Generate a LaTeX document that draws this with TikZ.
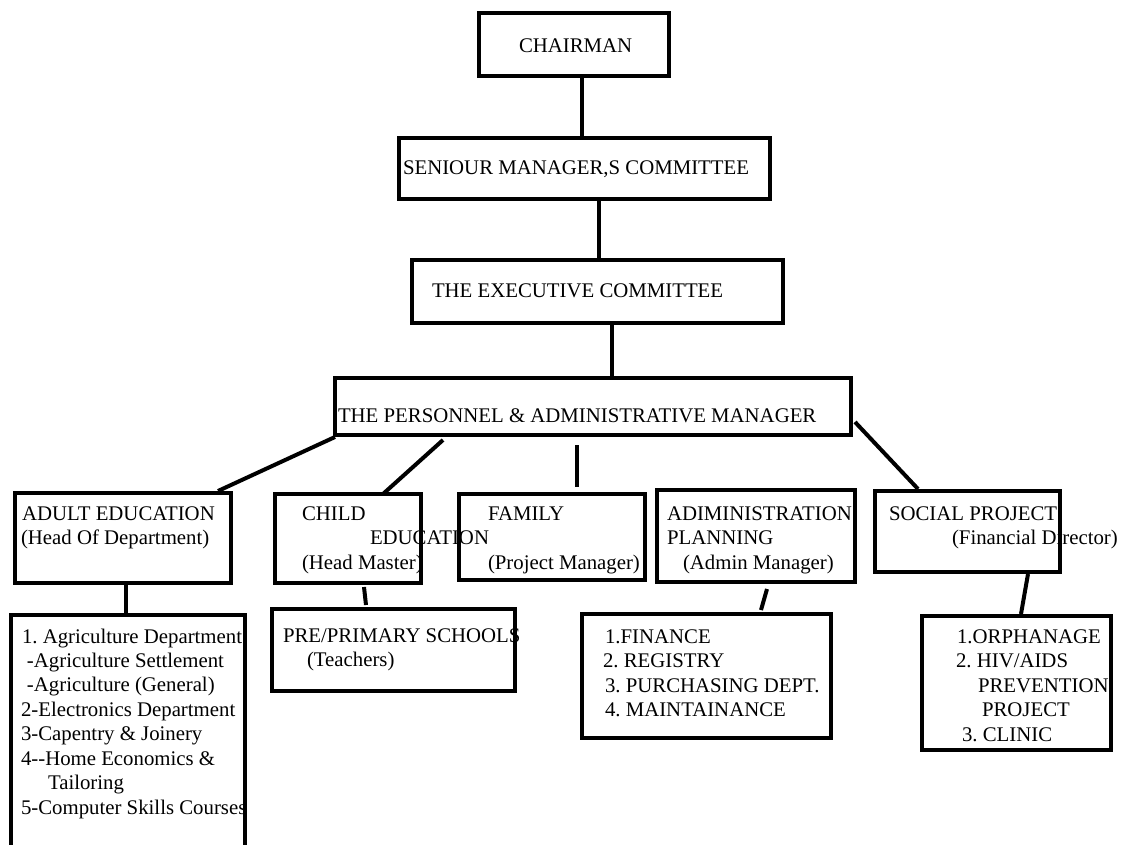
\documentclass[tikz,border=0pt]{standalone}
\usepackage{fontspec}
\setmainfont{Liberation Serif}
\usetikzlibrary{calc}
\begin{document}
\frenchspacing
\begin{tikzpicture}[x=1pt,y=-1pt,
  box/.style={draw, line width=4pt, inner sep=0pt, outer sep=0pt},
  txt/.style={anchor=base west, inner sep=0pt, outer sep=0pt, font=\fontsize{20.8}{24.45}\selectfont},
  link/.style={line width=4pt, line cap=butt}]
\clip (0,0) rectangle (1122,845);
\fill[white] (0,0) rectangle (1122,845);

% ---------- texts ----------
\node[txt] (tchair) at (519,52.5) {CHAIRMAN};
\node[txt] (tsen) at (403,175) {SENIOUR MANAGER,S COMMITTEE};
\node[txt] (texe) at (432,298) {THE EXECUTIVE COMMITTEE};
\node[txt] (tpm) at (338,422) {THE PERSONNEL \& ADMINISTRATIVE MANAGER};

\node[txt] (tad1) at (22,520) {ADULT EDUCATION};
\node[txt] (tad2) at (21,544.5) {(Head Of Department)};

\node[txt] (tch1) at (302,520) {CHILD};
\node[txt] (tch2) at (370,544.5) {EDUCATION};
\node[txt] (tch3) at (302,569) {(Head Master)};

\node[txt] (tfa1) at (488,520) {FAMILY};
\node[txt] (tfa2) at (488,569) {(Project Manager)};

\node[txt] (tam1) at (667,520) {ADIMINISTRATION};
\node[txt] (tam2) at (667,544.5) {PLANNING};
\node[txt] (tam3) at (683,569) {(Admin Manager)};

\node[txt] (tso1) at (889,520) {SOCIAL PROJECT};
\node[txt] (tso2) at (952,544.5) {(Financial Director)};

\foreach \xx/\tt [count=\i] in {
  22/{1. Agriculture Department.},
  27/{-Agriculture Settlement},
  27/{-Agriculture (General)},
  21/{2-Electronics Department},
  21/{3-Capentry \& Joinery},
  21/{4-\kern0pt-Home Economics \&},
  48/{Tailoring},
  21/{5-Computer Skills Courses}}
  \node[txt] (tal\i) at (\xx,{643+24.45*(\i-1)}) {\tt};

\node[txt] (tpr1) at (283,642) {PRE/PRIMARY SCHOOLS};
\node[txt] (tpr2) at (307,666.5) {(Teachers)};

\node[txt] (tml1) at (605,643) {1.FINANCE};
\node[txt] (tml2) at (603,667.5) {2. REGISTRY};
\node[txt] (tml3) at (605,692) {3. PURCHASING DEPT.};
\node[txt] (tml4) at (605,716.5) {4. MAINTAINANCE};

\node[txt] (tsl1) at (957,643) {1.ORPHANAGE};
\node[txt] (tsl2) at (956,667.5) {2. HIV/AIDS};
\node[txt] (tsl3) at (978,692) {PREVENTION};
\node[txt] (tsl4) at (982,716.5) {PROJECT};
\node[txt] (tsl5) at (962,741) {3. CLINIC};

% ---------- boxes ----------
\node[box, minimum width=190pt, minimum height=63pt] (chair) at (574,44.5) {};
\node[box, minimum width=371pt, minimum height=61pt] (senior) at (584.5,168.5) {};
\node[box, minimum width=371pt, minimum height=63pt] (exec) at (597.5,291.5) {};
\node[box, minimum width=516pt, minimum height=57pt] (pm) at (593,406.5) {};
\node[box, minimum width=216pt, minimum height=90pt] (adult) at (123,538) {};
\node[box, minimum width=146pt, minimum height=89pt] (child) at (348,538.5) {};
\node[box, minimum width=186pt, minimum height=86pt] (family) at (552,537) {};
\node[box, minimum width=198pt, minimum height=92pt] (admin) at (756,536) {};
\node[box, minimum width=185pt, minimum height=81pt] (social) at (967.5,531.5) {};
\node[box, minimum width=234pt, minimum height=265pt] (adultlist) at (128,747.5) {};
\node[box, minimum width=243pt, minimum height=82pt] (pre) at (393.5,650) {};
\node[box, minimum width=249pt, minimum height=124pt] (adminlist) at (706.5,676) {};
\node[box, minimum width=189pt, minimum height=134pt] (soclist) at (1016.5,683) {};

% ---------- connectors ----------
\draw[link] ($(chair.south west)+(103,0)$) -- ($(senior.north west)+(183,0)$);
\draw[link] ($(senior.south west)+(200,0)$) -- ($(exec.north west)+(187,0)$);
\draw[link] ($(exec.south west)+(200,0)$) -- ($(pm.north west)+(277,0)$);
\draw[link] ($(pm.south west)+(0,2)$) -- ($(adult.north west)+(203,-2)$);
\draw[link] ($(pm.south west)+(108,5)$) -- ($(child.north west)+(108,0)$);
\draw[link] ($(pm.south west)+(242,10)$) -- ($(family.north west)+(118,-7)$);
\draw[link] ($(pm.north east)+(4,44)$) -- ($(social.north west)+(43,-2)$);
\draw[link] ($(adult.south west)+(111,2)$) -- ($(adultlist.north west)+(115,-2)$);
\draw[link] ($(child.south west)+(89,4)$) -- ($(pre.north west)+(94,-4)$);
\draw[link] ($(admin.south west)+(110,7)$) -- ($(adminlist.north west)+(179,-4)$);
\draw[link] ($(social.south west)+(153,2)$) -- ($(soclist.north west)+(99,-2)$);
\end{tikzpicture}
\end{document}
